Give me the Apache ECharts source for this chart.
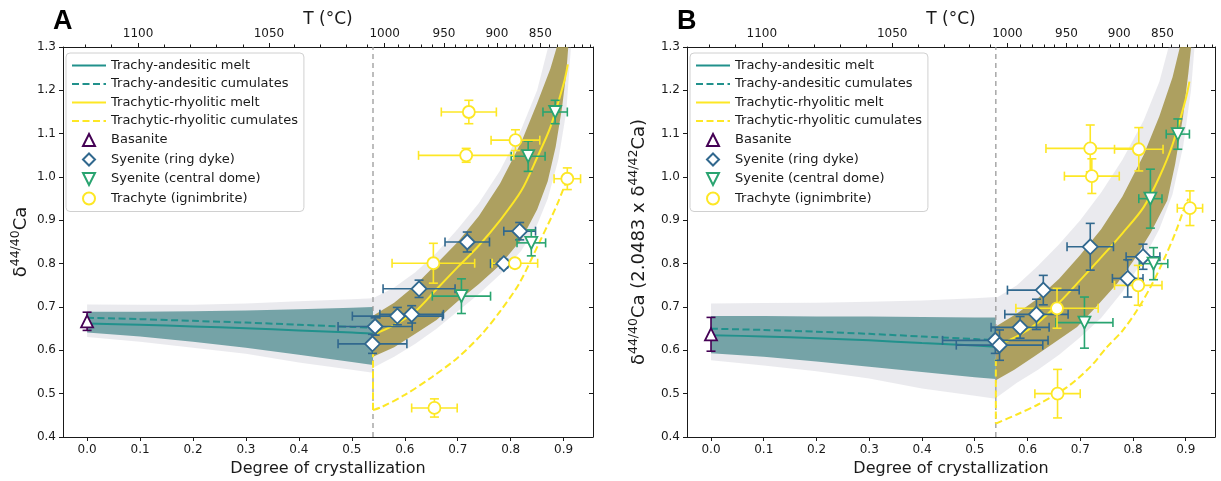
<!DOCTYPE html>
<html><head><meta charset="utf-8">
<script src="https://cdn.jsdelivr.net/npm/echarts@6/dist/echarts.min.js"></script>
<style>html,body{margin:0;padding:0;background:#fff}#c{width:1221px;height:481px}</style>
</head><body><div id="c"></div><script>
// ---------------- data ----------------
const X_MIN = -0.0455, X_MAX = 0.9555, Y_MIN = 0.4, Y_MAX = 1.3;
const SPLIT_F = 0.54;
const xTicks = [0, 0.1, 0.2, 0.3, 0.4, 0.5, 0.6, 0.7, 0.8, 0.9];
const yTicks = [0.4, 0.5, 0.6, 0.7, 0.8, 0.9, 1.0, 1.1, 1.2, 1.3];
const tempMajor = [1100, 1050, 1000, 950, 900, 850];
const tempMajorF = [0.0963, 0.3435, 0.562, 0.674, 0.774, 0.856];
const tempMinorF = [-0.003, 0.0464, 0.1456, 0.1949, 0.2442, 0.2942, 0.392, 0.4413, 0.490, 0.530,
  0.587, 0.609, 0.632, 0.651, 0.695, 0.717, 0.736, 0.757, 0.791, 0.809, 0.825, 0.841,
  0.872, 0.888, 0.903, 0.920, 0.935, 0.951];

const legendNames = ['Trachy-andesitic melt', 'Trachy-andesitic cumulates', 'Trachytic-rhyolitic melt',
  'Trachytic-rhyolitic cumulates', 'Basanite', 'Syenite (ring dyke)', 'Syenite (central dome)', 'Trachyte (ignimbrite)'];

// stage 1 (trachy-andesitic), F grid
const F1 = [0, 0.1, 0.2, 0.3, 0.4, 0.5, 0.54];
// Panel A
const aMelt1 = [0.662, 0.659, 0.655, 0.651, 0.646, 0.641, 0.638];
const aCum1 = [0.675, 0.672, 0.668, 0.664, 0.659, 0.654, 0.652];
const aTealLo1 = [0.641, 0.632, 0.620, 0.606, 0.590, 0.573, 0.566];
const aTealHi1 = [0.689, 0.689, 0.690, 0.692, 0.695, 0.698, 0.700];
const aGrayLo1 = [0.631, 0.620, 0.606, 0.592, 0.572, 0.555, 0.548];
const aGrayHi1 = [0.706, 0.705, 0.705, 0.708, 0.713, 0.718, 0.720];
// stage 2 (trachytic-rhyolitic) [F, value]
const aMelt2 = [[0.54, 0.636], [0.58, 0.658], [0.62, 0.690], [0.66, 0.741], [0.70, 0.792], [0.74, 0.842],
  [0.78, 0.900], [0.82, 0.968], [0.85, 1.045], [0.875, 1.115], [0.90, 1.215], [0.908, 1.26]];
const aCum2Drop = [[0.54, 0.60], [0.54, 0.462]];
const aCum2 = [[0.54, 0.462], [0.556, 0.469], [0.60, 0.497], [0.651, 0.538], [0.70, 0.583], [0.746, 0.638],
  [0.78, 0.69], [0.816, 0.754], [0.853, 0.846], [0.878, 0.91], [0.891, 0.946], [0.905, 0.99]];
const aOliveUp = [[0.54, 0.68], [0.58, 0.71], [0.62, 0.75], [0.66, 0.80], [0.70, 0.85], [0.74, 0.91],
  [0.78, 0.985], [0.82, 1.08], [0.85, 1.17], [0.875, 1.25], [0.892, 1.32]];
const aOliveLo = [[0.54, 0.585], [0.58, 0.607], [0.62, 0.638], [0.66, 0.67], [0.70, 0.713], [0.74, 0.753],
  [0.78, 0.797], [0.82, 0.855], [0.85, 0.925], [0.87, 0.99], [0.885, 1.07], [0.897, 1.16], [0.905, 1.24], [0.91, 1.32]];
const aGrayUp2 = [[0.54, 0.72], [0.58, 0.745], [0.62, 0.78], [0.66, 0.825], [0.70, 0.88], [0.74, 0.94],
  [0.78, 1.015], [0.82, 1.11], [0.85, 1.2], [0.875, 1.32]];
const aGrayLo2 = [[0.54, 0.56], [0.58, 0.585], [0.62, 0.615], [0.66, 0.65], [0.70, 0.69], [0.74, 0.73],
  [0.78, 0.775], [0.82, 0.83], [0.85, 0.89], [0.87, 0.95], [0.89, 1.04], [0.905, 1.15], [0.915, 1.32]];
// samples [F, value, xerr, yerr]
const aBasanite = [[0, 0.667, 0, 0.021]];
const aRingDyke = [[0.544, 0.655, 0.07, 0.02], [0.539, 0.615, 0.065, 0.022], [0.586, 0.679, 0.085, 0.02],
  [0.613, 0.683, 0.06, 0.02], [0.627, 0.742, 0.068, 0.02], [0.718, 0.85, 0.042, 0.023],
  [0.817, 0.875, 0.03, 0.02], [0.787, 0.80, 0.025, 0.01]];
const aDome = [[0.707, 0.725, 0.055, 0.04], [0.839, 0.848, 0.027, 0.03], [0.833, 1.048, 0.032, 0.035], [0.884, 1.15, 0.023, 0.027]];
const aTrachyte = [[0.721, 1.15, 0.052, 0.027], [0.716, 1.05, 0.09, 0.016], [0.809, 1.085, 0.046, 0.024],
  [0.907, 0.996, 0.025, 0.025], [0.654, 0.801, 0.078, 0.046], [0.808, 0.801, 0.043, 0.01], [0.656, 0.467, 0.043, 0.021]];

// Panel B
const bMelt1 = [0.635, 0.632, 0.628, 0.623, 0.617, 0.611, 0.608];
const bCum1 = [0.650, 0.647, 0.643, 0.638, 0.632, 0.626, 0.623];
const bTealLo1 = [0.593, 0.585, 0.574, 0.562, 0.550, 0.538, 0.534];
const bTealHi1 = [0.679, 0.679, 0.678, 0.678, 0.677, 0.676, 0.676];
const bGrayLo1 = [0.577, 0.565, 0.552, 0.535, 0.512, 0.495, 0.488];
const bGrayHi1 = [0.708, 0.709, 0.710, 0.712, 0.715, 0.720, 0.723];
const bMelt2 = [[0.54, 0.61], [0.58, 0.632], [0.62, 0.664], [0.66, 0.71], [0.70, 0.762], [0.74, 0.815],
  [0.78, 0.87], [0.82, 0.93], [0.85, 1.0], [0.875, 1.075], [0.90, 1.18], [0.907, 1.22]];
const bCum2Drop = [[0.54, 0.58], [0.54, 0.431]];
const bCum2 = [[0.54, 0.431], [0.58, 0.452], [0.62, 0.475], [0.675, 0.515], [0.72, 0.563], [0.751, 0.608],
  [0.78, 0.645], [0.808, 0.693], [0.835, 0.75], [0.858, 0.808], [0.88, 0.87], [0.896, 0.924], [0.905, 0.95]];
const bOliveUp = [[0.54, 0.655], [0.58, 0.685], [0.62, 0.72], [0.66, 0.765], [0.70, 0.82], [0.74, 0.88],
  [0.78, 0.955], [0.82, 1.05], [0.85, 1.14], [0.875, 1.23], [0.893, 1.32]];
const bOliveLo = [[0.54, 0.531], [0.575, 0.555], [0.612, 0.585], [0.65, 0.617], [0.694, 0.654], [0.73, 0.70],
  [0.77, 0.754], [0.80, 0.805], [0.833, 0.87], [0.865, 0.946], [0.88, 1.03], [0.895, 1.14], [0.905, 1.24], [0.912, 1.32]];
const bGrayUp2 = [[0.54, 0.72], [0.58, 0.75], [0.62, 0.795], [0.66, 0.845], [0.70, 0.90], [0.74, 0.965],
  [0.78, 1.04], [0.82, 1.13], [0.85, 1.22], [0.872, 1.32]];
const bGrayLo2 = [[0.54, 0.49], [0.58, 0.525], [0.62, 0.555], [0.66, 0.59], [0.70, 0.63], [0.74, 0.675],
  [0.78, 0.735], [0.82, 0.81], [0.85, 0.88], [0.875, 0.96], [0.895, 1.07], [0.91, 1.2], [0.918, 1.32]];
const bBasanite = [[0, 0.637, 0, 0.039]];
const bRingDyke = [[0.539, 0.623, 0.10, 0.03], [0.547, 0.612, 0.082, 0.035], [0.586, 0.653, 0.055, 0.025],
  [0.617, 0.683, 0.06, 0.035], [0.63, 0.739, 0.068, 0.034], [0.719, 0.839, 0.044, 0.054],
  [0.79, 0.766, 0.029, 0.043], [0.819, 0.816, 0.032, 0.029]];
const bDome = [[0.708, 0.664, 0.054, 0.059], [0.839, 0.80, 0.027, 0.037], [0.833, 0.95, 0.022, 0.068], [0.885, 1.099, 0.022, 0.035]];
const bTrachyte = [[0.719, 1.066, 0.084, 0.054], [0.722, 1.002, 0.052, 0.04], [0.811, 1.064, 0.046, 0.05],
  [0.908, 0.928, 0.024, 0.04], [0.656, 0.697, 0.078, 0.046], [0.81, 0.75, 0.045, 0.046], [0.657, 0.50, 0.043, 0.056]];

// ---------------- styling ----------------
const FONT = "'DejaVu Sans', sans-serif";
const AX = '#1a1a1a';
const TEAL = '#21918c', YEL = '#fde725', PURP = '#440154', BLUE = '#31688e', GREEN = '#29a470';
const GRAYF = 'rgba(175,175,188,0.26)', TEALF = 'rgba(76,138,141,0.74)', OLIVEF = 'rgba(162,147,70,0.85)';
const TRI_UP = 'path://M5,0L10,10L0,10Z';
const TRI_DOWN = 'path://M0,0L10,0L5,10Z';
const DIA = 'path://M5,0L10,5L5,10L0,5Z';
const SOLID_ICON = 'path://M0,0H34V2.2H0Z';
const DASH_ICON = 'path://M0,0H7V2.2H0ZM10.5,0H17.5V2.2H10.5ZM21,0H28V2.2H21ZM31.5,0H34V2.2H31.5Z';

const zip = (xs, ys) => xs.map((x, i) => [x, ys[i]]);

function xAxes(k) {
  const base = {type: 'value', gridIndex: k, min: X_MIN, max: X_MAX, splitLine: {show: false}};
  const majorIdx = v => tempMajorF.findIndex(f => Math.abs(f - v) < 1e-6);
  return [
    Object.assign({}, base, {position: 'bottom',
      axisLine: {onZero: false, lineStyle: {color: AX, width: 1}},
      axisTick: {customValues: xTicks, length: 4, lineStyle: {color: AX}},
      axisLabel: {customValues: xTicks, formatter: v => v.toFixed(1), color: AX, fontSize: 12, fontFamily: FONT, margin: 7},
      name: 'Degree of crystallization', nameLocation: 'middle', nameGap: 22,
      nameTextStyle: {fontSize: 16, color: AX, fontFamily: FONT}}),
    Object.assign({}, base, {position: 'top',
      axisLine: {onZero: false, lineStyle: {color: AX, width: 1}},
      axisTick: {customValues: tempMajorF, length: 4, lineStyle: {color: AX}},
      axisLabel: {customValues: tempMajorF, formatter: v => { const i = majorIdx(v); return i >= 0 ? String(tempMajor[i]) : ''; },
        color: AX, fontSize: 12, fontFamily: FONT, margin: 7},
      name: 'T (°C)', nameLocation: 'middle', nameGap: 19, nameMoveOverlap: false,
      nameTextStyle: {fontSize: 17, color: AX, fontFamily: FONT}}),
    Object.assign({}, base, {position: 'top',
      axisLine: {show: false, onZero: false},
      axisTick: {customValues: tempMinorF, length: 2.5, lineStyle: {color: AX}},
      axisLabel: {show: false}})
  ];
}

function yAxes(k, name, gap) {
  const base = {type: 'value', gridIndex: k, min: Y_MIN, max: Y_MAX, splitLine: {show: false}};
  return [
    Object.assign({}, base, {position: 'left',
      axisLine: {show: true, onZero: false, lineStyle: {color: AX, width: 1}},
      axisTick: {show: true, customValues: yTicks, length: 4, lineStyle: {color: AX}},
      axisLabel: {customValues: yTicks, formatter: v => v.toFixed(1), color: AX, fontSize: 12, fontFamily: FONT, margin: 7},
      name: name, nameLocation: 'middle', nameGap: gap, nameRotate: 90,
      nameTextStyle: {color: AX, fontFamily: FONT, fontSize: 18,
        rich: {d: {fontSize: 18, fontFamily: FONT, color: AX, lineHeight: 24},
               s: {fontSize: 12.5, fontFamily: FONT, color: AX, lineHeight: 14, verticalAlign: 'top'}}}}),
    Object.assign({}, base, {position: 'right',
      axisLine: {show: true, onZero: false, lineStyle: {color: AX, width: 1}},
      axisTick: {show: true, inside: true, customValues: yTicks, length: 4, lineStyle: {color: AX}},
      axisLabel: {show: false}})
  ];
}

function band(k, upper, lower, color, z) {
  return {type: 'custom', xAxisIndex: 3 * k, yAxisIndex: 2 * k, z: z, silent: true,
    data: [upper[0]],
    renderItem(params, api) {
      const pts = upper.concat(lower.slice().reverse()).map(p => api.coord(p));
      const cs = params.coordSys;
      return {type: 'polygon', shape: {points: pts}, style: {fill: color},
        clipPath: {type: 'rect', shape: {x: cs.x, y: cs.y, width: cs.width, height: cs.height}}};
    }};
}

function line(k, name, data, color, dashed, z, smooth) {
  return {type: 'line', name: name, xAxisIndex: 3 * k, yAxisIndex: 2 * k, data: data, symbol: 'none',
    smooth: smooth ? 0.3 : false, z: z, silent: true, clip: true,
    lineStyle: {color: color, width: 2, type: dashed ? [7, 3.5] : 'solid'}, itemStyle: {color: color}};
}

function errBars(k, pts, color) {
  return {type: 'custom', xAxisIndex: 3 * k, yAxisIndex: 2 * k, z: 5, silent: true,
    dimensions: ['x', 'y', 'ex', 'ey'], encode: {x: 0, y: 1}, data: pts,
    renderItem(params, api) {
      const x = api.value(0), y = api.value(1), ex = api.value(2), ey = api.value(3);
      const st = {stroke: color, lineWidth: 1.6};
      const h = 4.5, ch = [];
      if (ex > 0) {
        const l = api.coord([x - ex, y]), r = api.coord([x + ex, y]);
        ch.push({type: 'line', shape: {x1: l[0], y1: l[1], x2: r[0], y2: r[1]}, style: st});
        ch.push({type: 'line', shape: {x1: l[0], y1: l[1] - h, x2: l[0], y2: l[1] + h}, style: st});
        ch.push({type: 'line', shape: {x1: r[0], y1: r[1] - h, x2: r[0], y2: r[1] + h}, style: st});
      }
      if (ey > 0) {
        const t = api.coord([x, y + ey]), b = api.coord([x, y - ey]);
        ch.push({type: 'line', shape: {x1: t[0], y1: t[1], x2: b[0], y2: b[1]}, style: st});
        ch.push({type: 'line', shape: {x1: t[0] - h, y1: t[1], x2: t[0] + h, y2: t[1]}, style: st});
        ch.push({type: 'line', shape: {x1: b[0] - h, y1: b[1], x2: b[0] + h, y2: b[1]}, style: st});
      }
      return {type: 'group', children: ch};
    }};
}

function scat(k, name, pts, symbol, size, color) {
  return {type: 'scatter', name: name, xAxisIndex: 3 * k, yAxisIndex: 2 * k, z: 6,
    data: pts.map(p => [p[0], p[1]]), symbol: symbol, symbolSize: size,
    symbolKeepAspect: true,
    itemStyle: {color: '#ffffff', borderColor: color, borderWidth: 1.8, opacity: 1}};
}

function panelSeries(k, d) {
  return [
    band(k, zip(F1, d.grayHi1), zip(F1, d.grayLo1), GRAYF, 1),
    band(k, d.grayUp2, d.grayLo2, GRAYF, 1),
    band(k, zip(F1, d.tealHi1), zip(F1, d.tealLo1), TEALF, 1),
    band(k, d.oliveUp, d.oliveLo, OLIVEF, 1),
    {type: 'line', xAxisIndex: 3 * k, yAxisIndex: 2 * k, z: 1, silent: true, symbol: 'none',
      data: [[SPLIT_F, Y_MIN], [SPLIT_F, Y_MAX]], lineStyle: {color: '#9a9a9a', width: 1.3, type: [5, 4]}},
    line(k, legendNames[0], zip(F1, d.melt1), TEAL, false, 3, true),
    line(k, legendNames[1], zip(F1, d.cum1), TEAL, true, 3, true),
    line(k, legendNames[2], d.melt2, YEL, false, 3, true),
    line(k, legendNames[3], d.cum2, YEL, true, 3, true),
    line(k, legendNames[3], d.cum2Drop, YEL, true, 3, false),
    errBars(k, d.bas, PURP), errBars(k, d.ring, BLUE), errBars(k, d.dome, GREEN), errBars(k, d.tra, YEL),
    scat(k, legendNames[4], d.bas, TRI_UP, 12, PURP),
    scat(k, legendNames[5], d.ring, DIA, 15, BLUE),
    scat(k, legendNames[6], d.dome, TRI_DOWN, 12, GREEN),
    scat(k, legendNames[7], d.tra, 'circle', 12, YEL)
  ];
}

const A = {melt1: aMelt1, cum1: aCum1, tealLo1: aTealLo1, tealHi1: aTealHi1, grayLo1: aGrayLo1, grayHi1: aGrayHi1,
  melt2: aMelt2, cum2: aCum2, cum2Drop: aCum2Drop, oliveUp: aOliveUp, oliveLo: aOliveLo, grayUp2: aGrayUp2, grayLo2: aGrayLo2,
  bas: aBasanite, ring: aRingDyke, dome: aDome, tra: aTrachyte};
const B = {melt1: bMelt1, cum1: bCum1, tealLo1: bTealLo1, tealHi1: bTealHi1, grayLo1: bGrayLo1, grayHi1: bGrayHi1,
  melt2: bMelt2, cum2: bCum2, cum2Drop: bCum2Drop, oliveUp: bOliveUp, oliveLo: bOliveLo, grayUp2: bGrayUp2, grayLo2: bGrayLo2,
  bas: bBasanite, ring: bRingDyke, dome: bDome, tra: bTrachyte};

const legendData = legendNames.map((n, i) => i < 4
  ? {name: n, icon: (i % 2 ? DASH_ICON : SOLID_ICON), itemStyle: {borderWidth: 0}}
  : {name: n});

function legendAt(left) {
  return {left: left, top: 53, orient: 'vertical', data: legendData, selectedMode: false, z: 20,
    symbolKeepAspect: true,
    backgroundColor: 'rgba(255,255,255,0.85)', borderColor: '#d0d0d0', borderWidth: 1, borderRadius: 4,
    padding: [6, 6, 6, 6], itemWidth: 34, itemHeight: 12, itemGap: 5.5,
    textStyle: {fontSize: 13, color: AX, fontFamily: FONT}};
}

const chart = echarts.init(document.getElementById('c'), null, {renderer: 'canvas'});
chart.setOption({
  animation: false,
  backgroundColor: '#ffffff',
  grid: [
    {left: 63, top: 47, right: 628, bottom: 44, outerBoundsMode: 'none'},
    {left: 687, top: 47, right: 6, bottom: 44, outerBoundsMode: 'none'}
  ],
  xAxis: xAxes(0).concat(xAxes(1)),
  yAxis: yAxes(0, '{d|δ}{s|44/40}{d|Ca}', 30).concat(yAxes(1, '{d|δ}{s|44/40}{d|Ca (2.0483 x δ}{s|44/42}{d|Ca)}', 36)),
  legend: [legendAt(66), legendAt(690)],
  graphic: [
    {type: 'text', left: 53, top: 8, style: {text: 'A', font: "bold 27px 'Liberation Sans', sans-serif", fill: '#000'}},
    {type: 'text', left: 677, top: 8, style: {text: 'B', font: "bold 27px 'Liberation Sans', sans-serif", fill: '#000'}}
  ],
  series: panelSeries(0, A).concat(panelSeries(1, B))
});
</script></body></html>
